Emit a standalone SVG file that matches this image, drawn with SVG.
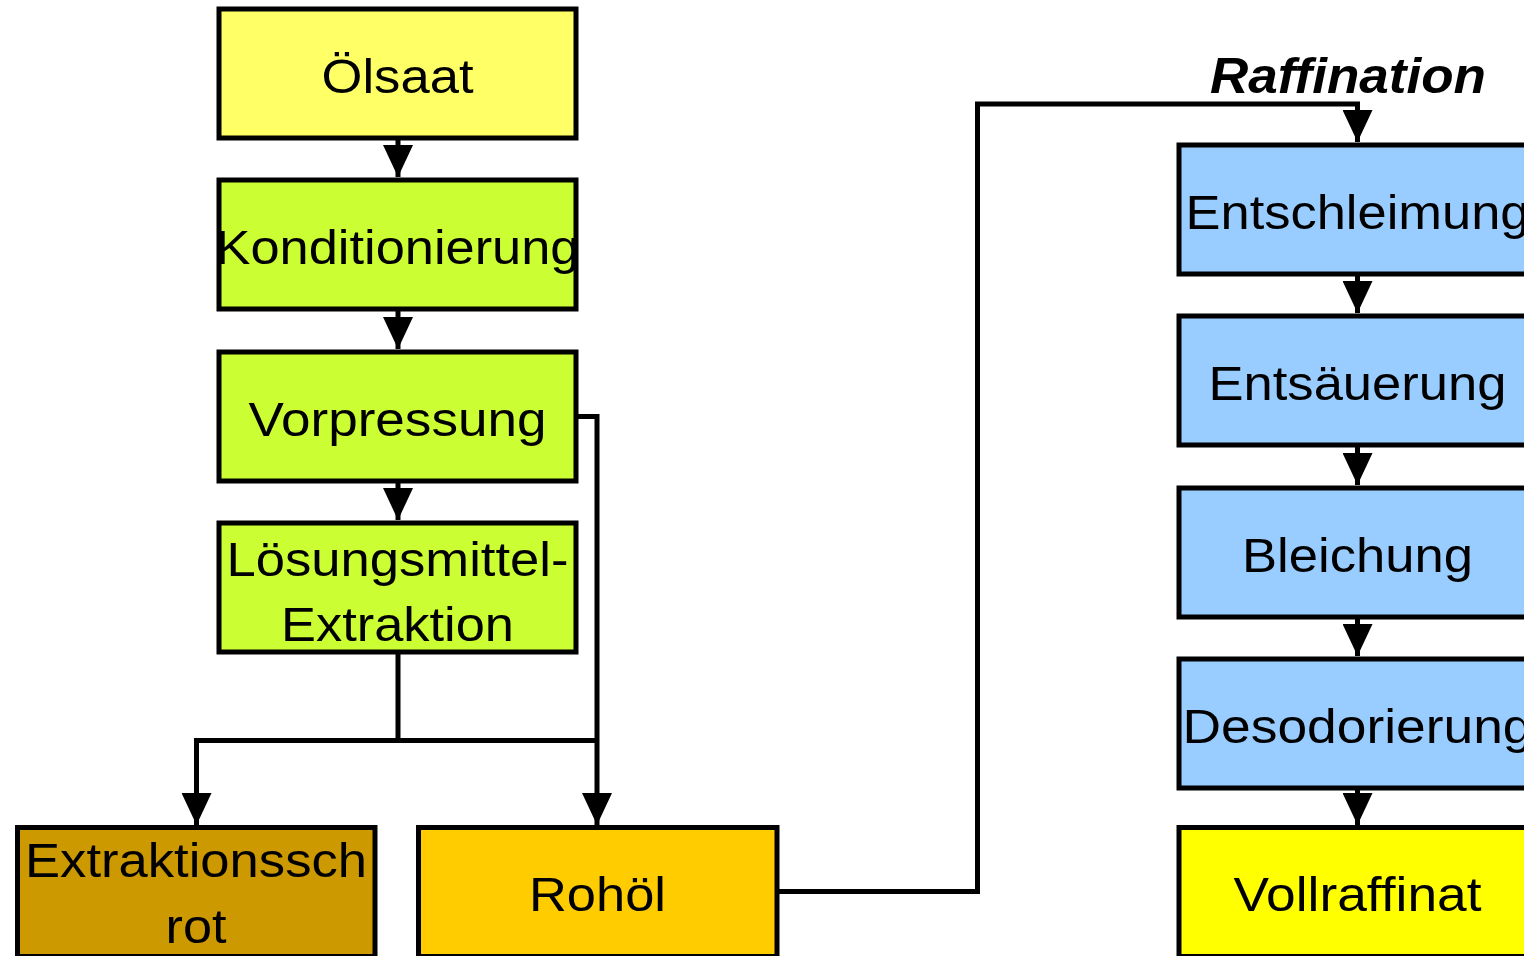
<svg xmlns="http://www.w3.org/2000/svg" width="1524" height="956" viewBox="0 0 1524 956">
<style>
.box{stroke:#000;stroke-width:5}
.t{font-family:"Liberation Sans",Arial,sans-serif;font-size:49px;fill:#000;text-anchor:middle}
.c{fill:none;stroke:#000;stroke-width:5}
.h{font-family:"Liberation Sans",Arial,sans-serif;font-size:50px;font-weight:bold;font-style:italic;fill:#000;text-anchor:middle}
</style>
<defs>
<marker id="ah" markerUnits="userSpaceOnUse" viewBox="0 0 32 30" refX="32" refY="15" markerWidth="32" markerHeight="30" orient="auto">
<path d="M0,0 L32,15 L0,30 z" fill="#000"/>
</marker>
</defs>
<rect width="1524" height="956" fill="#fff"/>
<g id="connectors">
<path class="c" d="M398,138 V177" marker-end="url(#ah)"/>
<path class="c" d="M398,309 V349" marker-end="url(#ah)"/>
<path class="c" d="M398,481 V520" marker-end="url(#ah)"/>
<path class="c" d="M398,652 V740.5"/>
<path class="c" d="M398,740.5 H196.5 V825" marker-end="url(#ah)"/>
<path class="c" d="M398,740.5 H597"/>
<path class="c" d="M577,416.5 H597 V825" marker-end="url(#ah)"/>
<path class="c" d="M777,891.5 H977.5 V104 H1357.5 V142" marker-end="url(#ah)"/>
<path class="c" d="M1357.5,274 V313" marker-end="url(#ah)"/>
<path class="c" d="M1357.5,445 V485" marker-end="url(#ah)"/>
<path class="c" d="M1357.5,617 V656" marker-end="url(#ah)"/>
<path class="c" d="M1357.5,788 V825" marker-end="url(#ah)"/>
</g>
<text class="h" x="1348" y="93" textLength="276" lengthAdjust="spacingAndGlyphs">Raffination</text>
<g id="oelsaat">
<rect class="box" x="219" y="9" width="357" height="129" fill="#FFFF66"/>
<text class="t" x="397.5" y="93" textLength="152" lengthAdjust="spacingAndGlyphs">Ölsaat</text>
</g>
<g id="konditionierung">
<rect class="box" x="219" y="180" width="357" height="129" fill="#CCFF33"/>
<text class="t" x="397.5" y="264" textLength="364" lengthAdjust="spacingAndGlyphs">Konditionierung</text>
</g>
<g id="vorpressung">
<rect class="box" x="219" y="352" width="357" height="129" fill="#CCFF33"/>
<text class="t" x="397.5" y="436" textLength="298" lengthAdjust="spacingAndGlyphs">Vorpressung</text>
</g>
<g id="extraktion">
<rect class="box" x="219" y="523" width="357" height="129" fill="#CCFF33"/>
<text class="t" x="397.5" y="576" textLength="342" lengthAdjust="spacingAndGlyphs">Lösungsmittel-</text>
<text class="t" x="397.5" y="641" textLength="233" lengthAdjust="spacingAndGlyphs">Extraktion</text>
</g>
<g id="extraktionsschrot">
<rect class="box" x="17.5" y="827.5" width="357.5" height="129" fill="#CC9900"/>
<text class="t" x="196" y="877" textLength="342" lengthAdjust="spacingAndGlyphs">Extraktionssch</text>
<text class="t" x="196" y="943" textLength="61" lengthAdjust="spacingAndGlyphs">rot</text>
</g>
<g id="rohoel">
<rect class="box" x="418.5" y="827.5" width="358.5" height="129" fill="#FFCC00"/>
<text class="t" x="597.5" y="911" textLength="137" lengthAdjust="spacingAndGlyphs">Rohöl</text>
</g>
<g id="entschleimung">
<rect class="box" x="1179" y="145" width="358" height="129" fill="#99CCFF"/>
<text class="t" x="1357.5" y="229" textLength="344" lengthAdjust="spacingAndGlyphs">Entschleimung</text>
</g>
<g id="entsaeuerung">
<rect class="box" x="1179" y="316" width="358" height="129" fill="#99CCFF"/>
<text class="t" x="1357.5" y="400" textLength="298" lengthAdjust="spacingAndGlyphs">Entsäuerung</text>
</g>
<g id="bleichung">
<rect class="box" x="1179" y="488" width="358" height="129" fill="#99CCFF"/>
<text class="t" x="1357.5" y="572" textLength="231" lengthAdjust="spacingAndGlyphs">Bleichung</text>
</g>
<g id="desodorierung">
<rect class="box" x="1179" y="659" width="358" height="129" fill="#99CCFF"/>
<text class="t" x="1357.5" y="743" textLength="350" lengthAdjust="spacingAndGlyphs">Desodorierung</text>
</g>
<g id="vollraffinat">
<rect class="box" x="1179" y="827.5" width="358" height="129" fill="#FFFF00"/>
<text class="t" x="1357.5" y="911" textLength="248" lengthAdjust="spacingAndGlyphs">Vollraffinat</text>
</g>
</svg>
